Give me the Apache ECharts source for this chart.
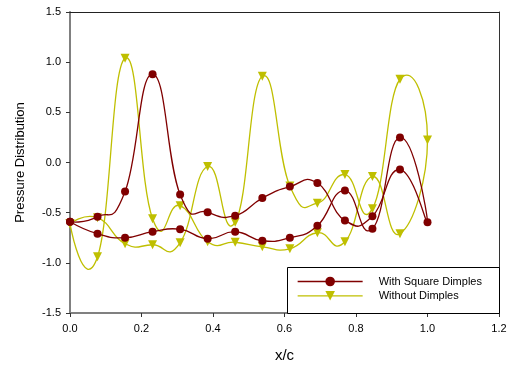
<!DOCTYPE html>
<html>
<head>
<meta charset="utf-8">
<style>
  html, body { margin: 0; padding: 0; background: #fff; }
  #chart { width: 510px; height: 367px; }
</style>
<script src="https://cdn.jsdelivr.net/npm/echarts@6/dist/echarts.min.js"></script>
</head>
<body>
<div id="chart"></div>
<script>
// Chord stations x/c shared by both surfaces
const xc = [0.000, 0.077, 0.154, 0.231, 0.308, 0.385, 0.462, 0.538, 0.615, 0.692, 0.769, 0.846, 0.923, 1.000];

// With square dimples: first surface (leading to trailing edge) and second surface
const dimpledSideA = [-0.59, -0.54, -0.29, 0.88, -0.32, -0.495, -0.53, -0.355, -0.24, -0.205, -0.578, -0.535, -0.07, -0.595];
const dimpledSideB = [-0.59, -0.71, -0.75, -0.69, -0.665, -0.76, -0.69, -0.78, -0.75, -0.63, -0.28, -0.66, 0.25, -0.595];

// Without dimples
const plainSideA = [-0.61, -0.55, -0.81, -0.82, -0.80, -0.04, -0.595, 0.86, -0.235, -0.405, -0.12, -0.46, 0.83, 0.225];
const plainSideB = [-0.61, -0.94, 1.04, -0.56, -0.43, -0.79, -0.795, -0.84, -0.86, -0.70, -0.79, -0.14, -0.71, 0.225];

const xTicks = ['0.0', '0.2', '0.4', '0.6', '0.8', '1.0', '1.2'];
const yTicks = ['-1.5', '-1.0', '-0.5', '0.0', '0.5', '1.0', '1.5'];

// Walk along side A to the trailing edge, then back along side B to the leading edge
function loop(sideA, sideB) {
  const pts = [];
  for (let i = 0; i < xc.length; i++) pts.push([xc[i], sideA[i]]);
  for (let i = xc.length - 2; i >= 0; i--) pts.push([xc[i], sideB[i]]);
  return pts;
}

const dimpledLoop = loop(dimpledSideA, dimpledSideB);
const plainLoop = loop(plainSideA, plainSideB);

const FONT = 'Liberation Sans, Arial, sans-serif';
const RED = '#800000';
const OLIVE = '#bfbf00';
const TENSION = 0.5;

// Cardinal spline through the pixel positions of the points (cubic Bezier pieces,
// tangents from the neighbouring points, free to overshoot)
function splineRenderer(color) {
  return function (params, api) {
    if (params.dataIndexInside !== 0) return null;
    const n = params.dataInsideLength;
    const p = [];
    for (let i = 0; i < n; i++) p.push(api.coord([api.value(0, i), api.value(1, i)]));
    const cpIn = [], cpOut = [];
    for (let i = 0; i < n; i++) {
      const prev = p[Math.max(i - 1, 0)];
      const next = p[Math.min(i + 1, n - 1)];
      const k = (i === 0 || i === n - 1) ? 0 : TENSION * 0.5;
      const vx = (next[0] - prev[0]) * k;
      const vy = (next[1] - prev[1]) * k;
      cpIn.push([p[i][0] - vx, p[i][1] - vy]);
      cpOut.push([p[i][0] + vx, p[i][1] + vy]);
    }
    const children = [];
    for (let i = 0; i < n - 1; i++) {
      children.push({
        type: 'bezierCurve',
        shape: {
          x1: p[i][0], y1: p[i][1], x2: p[i + 1][0], y2: p[i + 1][1],
          cpx1: cpOut[i][0], cpy1: cpOut[i][1], cpx2: cpIn[i + 1][0], cpy2: cpIn[i + 1][1]
        },
        style: { stroke: color, lineWidth: 1.3, fill: null }
      });
    }
    return { type: 'group', children: children };
  };
}

const chart = echarts.init(document.getElementById('chart'), null, { renderer: 'canvas' });

chart.setOption({
  animation: false,
  backgroundColor: '#fff',
  grid: { left: 70, right: 11, top: 12, bottom: 54, containLabel: false, outerBoundsMode: 'none' },
  xAxis: [{
    type: 'value', min: 0, max: 1.2, interval: 0.2,
    name: 'x/c', nameLocation: 'middle', nameGap: 35,
    nameTextStyle: { fontFamily: FONT, fontSize: 15, color: '#000' },
    axisLine: { show: true, onZero: false, lineStyle: { color: '#808080', width: 2 } },
    axisTick: { show: true, length: 4, lineStyle: { color: '#333', width: 1 } },
    axisLabel: { fontFamily: FONT, fontSize: 11, color: '#000', margin: 10,
      formatter: v => xTicks[Math.round(v / 0.2)] },
    splitLine: { show: false }
  }, {
    type: 'value', min: 0, max: 1.2, position: 'top',
    axisLine: { show: true, onZero: false, lineStyle: { color: '#222', width: 1 } },
    axisTick: { show: false }, axisLabel: { show: false }, splitLine: { show: false }
  }],
  yAxis: [{
    type: 'value', min: -1.5, max: 1.5, interval: 0.5,
    name: 'Pressure Distribution', nameLocation: 'middle', nameGap: 43,
    nameTextStyle: { fontFamily: FONT, fontSize: 13, color: '#000' },
    axisLine: { show: true, onZero: false, lineStyle: { color: '#808080', width: 2 } },
    axisTick: { show: true, length: 4, lineStyle: { color: '#333', width: 1 } },
    axisLabel: { fontFamily: FONT, fontSize: 11, color: '#000', margin: 9,
      formatter: v => yTicks[Math.round((v + 1.5) / 0.5)] },
    splitLine: { show: false }
  }, {
    type: 'value', min: -1.5, max: 1.5, position: 'right',
    axisLine: { show: true, onZero: false, lineStyle: { color: '#333', width: 1 } },
    axisTick: { show: false }, axisLabel: { show: false }, splitLine: { show: false }
  }],
  legend: {
    orient: 'vertical', left: 297, top: 276, padding: 0,
    itemWidth: 65, itemHeight: 12, itemGap: 3.3,
    textStyle: { fontFamily: FONT, fontSize: 11, color: '#000', padding: [0, 0, 0, 11] },
    lineStyle: { opacity: 1, width: 1.3 },
    data: ['With Square Dimples', 'Without Dimples']
  },
  graphic: [{
    type: 'rect', z: 4,
    shape: { x: 287.5, y: 267.5, width: 212, height: 46 },
    style: { fill: '#fff', stroke: '#000', lineWidth: 1 }
  }],
  series: [{
    name: 'dimpled spline', type: 'custom',
    data: dimpledLoop, encode: { x: 0, y: 1 },
    renderItem: splineRenderer(RED),
    silent: true, z: 3
  }, {
    name: 'plain spline', type: 'custom',
    data: plainLoop, encode: { x: 0, y: 1 },
    renderItem: splineRenderer(OLIVE),
    silent: true, z: 2
  }, {
    name: 'With Square Dimples', type: 'line',
    data: dimpledLoop,
    symbol: 'circle', symbolSize: 8,
    lineStyle: { color: RED, width: 1.3, opacity: 0 },
    itemStyle: { color: RED },
    z: 3
  }, {
    name: 'Without Dimples', type: 'line',
    data: plainLoop,
    symbol: 'triangle', symbolSize: 9, symbolRotate: 180,
    lineStyle: { color: OLIVE, width: 1.3, opacity: 0 },
    itemStyle: { color: OLIVE },
    z: 2
  }]
});
</script>
</body>
</html>
